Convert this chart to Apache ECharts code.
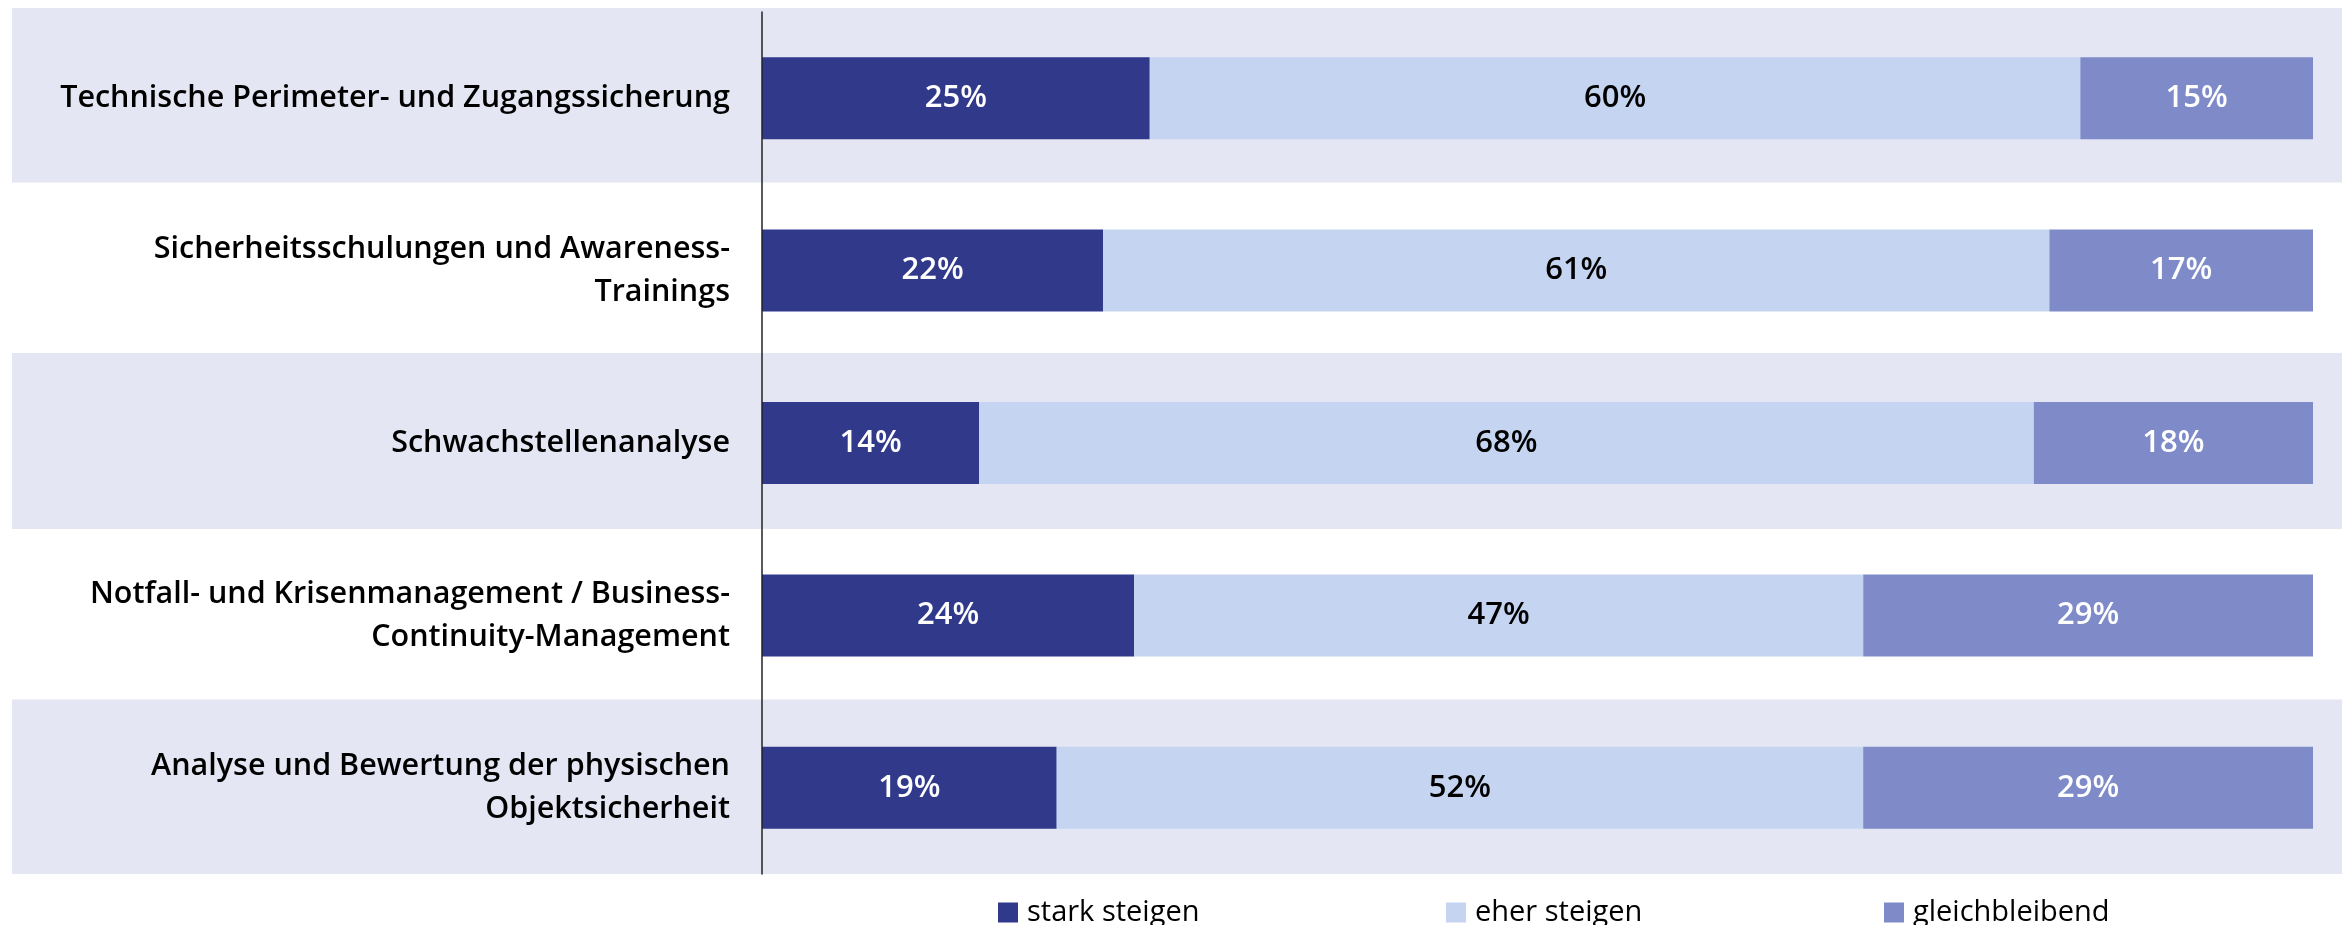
<!DOCTYPE html>
<html>
<head>
<meta charset="utf-8">
<script src="https://cdn.jsdelivr.net/npm/echarts@6/dist/echarts.min.js"></script>
<style>
html,body{margin:0;padding:0;background:#fff;}
#c{width:2347px;height:925px;}
</style>
</head>
<body>
<div id="c"></div>
<script>
const categories = [
  "Technische Perimeter- und Zugangssicherung",
  "Sicherheitsschulungen und Awareness-\nTrainings",
  "Schwachstellenanalyse",
  "Notfall- und Krisenmanagement / Business-\nContinuity-Management",
  "Analyse und Bewertung der physischen\nObjektsicherheit"
];
const seriesNames = ["stark steigen", "eher steigen", "gleichbleibend"];
const starkSteigen = [25, 22, 14, 24, 19];
const eherSteigen = [60, 61, 68, 47, 52];
const gleichbleibend = [15, 17, 18, 29, 29];
const bandRows = [100, null, 100, null, 100];

const colors = ["#31398B", "#C5D5F1", "#7E8BC8"];
const labelColors = ["#ffffff", "#000000", "#ffffff"];
const FONT = "Open Sans";

const chart = echarts.init(document.getElementById('c'), null, {renderer: 'canvas'});

function mkSeries(name, data, i) {
  return {
    name: name, type: 'bar', stack: 'total', xAxisIndex: 0, yAxisIndex: 0,
    data: data, barWidth: 82, z: 3,
    itemStyle: {color: colors[i]},
    label: {show: true, position: 'inside', formatter: '{c}%', color: labelColors[i],
            fontSize: 31, fontFamily: FONT, fontWeight: 600},
    emphasis: {disabled: true}
  };
}

const legendX = [998, 1446, 1884];

chart.setOption({
  animation: false,
  backgroundColor: '#ffffff',
  grid: [
    {left: 762, right: 34, top: 12, bottom: 51},
    {left: 12, right: 5, top: 8, bottom: 51}
  ],
  xAxis: [
    {type: 'value', gridIndex: 0, min: 0, max: 100, show: false},
    {type: 'value', gridIndex: 1, min: 0, max: 100, show: false}
  ],
  yAxis: [
    {type: 'category', gridIndex: 0, data: categories, inverse: true, z: 5,
     axisLine: {show: true, lineStyle: {color: '#222', width: 1.5}},
     axisTick: {show: false},
     axisLabel: {fontSize: 30.5, fontFamily: FONT, fontWeight: 600, color: '#000', margin: 32,
                 align: 'right', lineHeight: 43}},
    {type: 'category', gridIndex: 1, data: categories, inverse: true, show: false}
  ],
  legend: legendX.map((x, i) => ({
    data: [seriesNames[i]], left: x - 5, top: 893,
    itemWidth: 20, itemHeight: 20, itemGap: 0, icon: 'rect',
    selectedMode: false,
    textStyle: {fontSize: 29, fontFamily: FONT, color: '#000', padding: [0, 0, 0, 4]}
  })),
  series: [
    {type: 'bar', xAxisIndex: 1, yAxisIndex: 1, data: bandRows, barWidth: 176, z: 0,
     silent: true, itemStyle: {color: '#E4E6F3'}, label: {show: false}},
    mkSeries(seriesNames[0], starkSteigen, 0),
    mkSeries(seriesNames[1], eherSteigen, 1),
    mkSeries(seriesNames[2], gleichbleibend, 2)
  ]
});
</script>
</body>
</html>
